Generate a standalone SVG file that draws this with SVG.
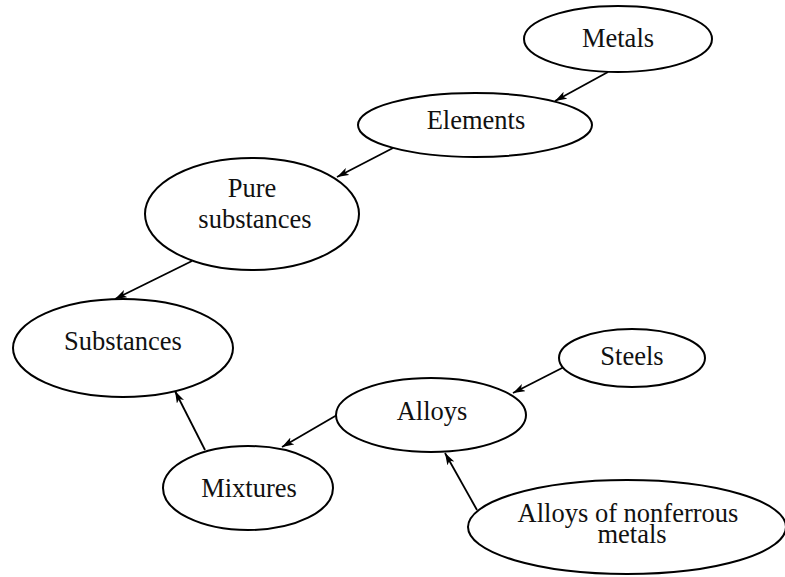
<svg xmlns="http://www.w3.org/2000/svg" width="785" height="577" viewBox="0 0 785 577">
<style>
.node ellipse{fill:#fff;stroke:#000;stroke-width:2}
.node text{font-family:'Liberation Serif','DejaVu Serif','Times New Roman',Times,serif;font-size:26.5px;fill:#111;text-anchor:middle}
.edges line{stroke:#000;stroke-width:1.8}
</style>
<defs>
<marker id="arr" viewBox="0 0 12 8" refX="12" refY="4" markerWidth="12" markerHeight="8" markerUnits="userSpaceOnUse" orient="auto">
<path d="M0,0 L12,4 L0,8 L3,4 Z" fill="#000"/>
</marker>
</defs>
<rect width="785" height="577" fill="#fff"/>
<g class="edges">
<line x1="608" y1="72" x2="555" y2="101" marker-end="url(#arr)"/>
<line x1="393" y1="148" x2="337" y2="177" marker-end="url(#arr)"/>
<line x1="192" y1="261" x2="115" y2="299" marker-end="url(#arr)"/>
<line x1="205" y1="450" x2="175" y2="391" marker-end="url(#arr)"/>
<line x1="564" y1="367" x2="513" y2="393" marker-end="url(#arr)"/>
<line x1="337" y1="415" x2="282" y2="447" marker-end="url(#arr)"/>
<line x1="477" y1="510" x2="445" y2="453" marker-end="url(#arr)"/>
</g>
<g id="metals" class="node"><ellipse cx="618" cy="39" rx="94" ry="33"/><text x="618" y="47">Metals</text></g>
<g id="elements" class="node"><ellipse cx="475" cy="125" rx="117" ry="32"/><text x="476" y="129">Elements</text></g>
<g id="pure" class="node"><ellipse cx="252" cy="214" rx="107" ry="56"/><text x="252" y="197">Pure</text><text x="255" y="228">substances</text></g>
<g id="substances" class="node"><ellipse cx="123" cy="348" rx="110" ry="49"/><text x="123" y="350">Substances</text></g>
<g id="steels" class="node"><ellipse cx="632" cy="358" rx="73" ry="29"/><text x="632" y="365">Steels</text></g>
<g id="alloys" class="node"><ellipse cx="431" cy="415" rx="95" ry="37"/><text x="432" y="420">Alloys</text></g>
<g id="mixtures" class="node"><ellipse cx="248" cy="488" rx="85" ry="42"/><text x="249" y="497">Mixtures</text></g>
<g id="nonferrous" class="node"><ellipse cx="627" cy="527" rx="159" ry="47"/><text x="628" y="522">Alloys of nonferrous</text><text x="632" y="543">metals</text></g>
</svg>
